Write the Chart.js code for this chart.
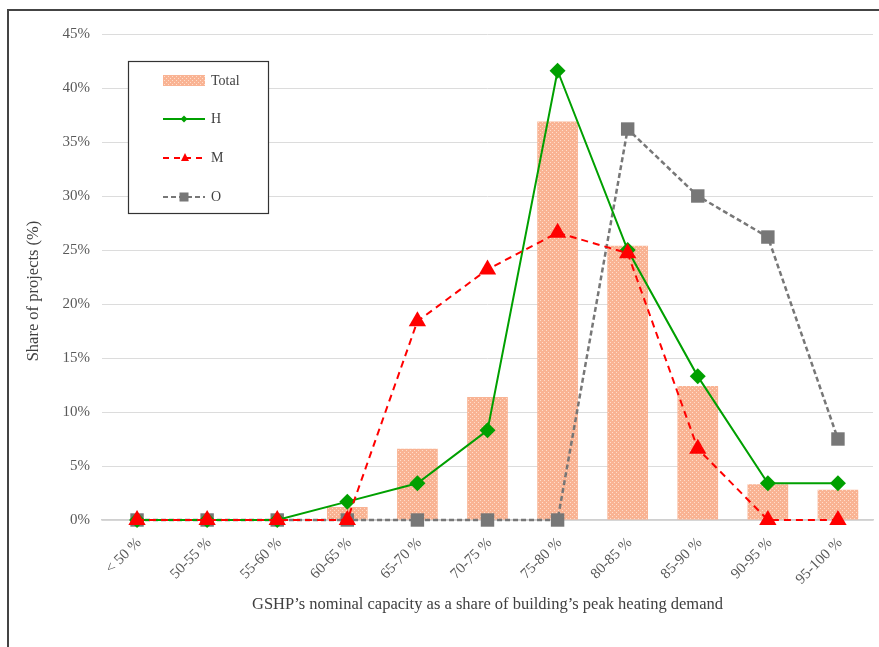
<!DOCTYPE html>
<html>
<head>
<meta charset="utf-8">
<script src="https://cdn.jsdelivr.net/npm/chart.js@4.4.1/dist/chart.umd.min.js"></script>
<style>
  html, body { margin: 0; padding: 0; background: #fff; }
  #wrap { position: relative; width: 879px; height: 647px; }
  #frame { position: absolute; left: 7px; top: 9px; right: 0; bottom: 0;
           border-left: 2px solid #444; border-top: 2px solid #444; pointer-events: none; }
  canvas { position: absolute; left: 0; top: 0; }
</style>
</head>
<body>
<div id="wrap">
  <canvas id="c" width="879" height="647"></canvas>
  <div id="frame"></div>
</div>
<script>
// Capacity ratio bins
const categories = ['< 50 %', '50-55 %', '55-60 %', '60-65 %', '65-70 %', '70-75 %',
                    '75-80 %', '80-85 %', '85-90 %', '90-95 %', '95-100 %'];
// Share of projects (%) per bin
const totalShare = [0, 0, 0, 1.2, 6.6, 11.4, 36.9, 25.4, 12.4, 3.3, 2.8];
const hShare     = [0, 0, 0, 1.7, 3.4, 8.3, 41.6, 25.0, 13.3, 3.4, 3.4];
const mShare     = [0, 0, 0, 0, 18.4, 23.2, 26.6, 24.7, 6.6, 0, 0];
const oShare     = [0, 0, 0, 0, 0, 0, 0, 36.2, 30.0, 26.2, 7.5];
const yTicks     = [0, 5, 10, 15, 20, 25, 30, 35, 40, 45];

const FONT = '"Liberation Serif", "Times New Roman", serif';
const GREEN = '#00A000', RED = '#FF0000', GREY = '#777777';

// Dotted salmon fill for the Total bars
function makePattern() {
  const p = document.createElement('canvas');
  p.width = 4; p.height = 4;
  const g = p.getContext('2d');
  g.fillStyle = '#F9B393';
  g.fillRect(0, 0, 4, 4);
  g.fillStyle = 'rgba(255,225,210,0.9)';
  g.fillRect(0, 0, 1, 1);
  g.fillRect(2, 2, 1, 1);
  return g.createPattern(p, 'repeat');
}
const barFill = makePattern();

// Vertical axis title, placed by hand
const yTitle = {
  id: 'yTitle',
  afterDraw(chart) {
    const ctx = chart.ctx;
    ctx.save();
    ctx.translate(34, 291);
    ctx.rotate(-Math.PI / 2);
    ctx.font = '16.5px ' + FONT;
    ctx.fillStyle = '#404040';
    ctx.textAlign = 'center';
    ctx.textBaseline = 'middle';
    ctx.fillText('Share of projects (%)', 0, 0);
    ctx.restore();
  }
};

// Framed legend drawn inside the plot
const boxLegend = {
  id: 'boxLegend',
  afterDraw(chart) {
    const ctx = chart.ctx;
    ctx.save();
    ctx.fillStyle = '#fff';
    ctx.fillRect(128, 61, 141, 153);
    ctx.strokeStyle = '#333';
    ctx.lineWidth = 1.2;
    ctx.strokeRect(128.5, 61.5, 140, 152);
    const x0 = 163, x1 = 205, xm = 184, tx = 211;
    ctx.font = '14px ' + FONT;
    ctx.textBaseline = 'middle';
    // Total
    ctx.fillStyle = barFill;
    ctx.fillRect(x0, 75, x1 - x0, 11);
    ctx.fillStyle = '#404040';
    ctx.fillText('Total', tx, 81);
    // H
    ctx.strokeStyle = GREEN; ctx.lineWidth = 2; ctx.setLineDash([]);
    ctx.beginPath(); ctx.moveTo(x0, 119); ctx.lineTo(x1, 119); ctx.stroke();
    ctx.fillStyle = GREEN;
    ctx.beginPath(); ctx.moveTo(xm, 115.5); ctx.lineTo(xm + 3.5, 119); ctx.lineTo(xm, 122.5); ctx.lineTo(xm - 3.5, 119); ctx.closePath(); ctx.fill();
    ctx.fillStyle = '#404040';
    ctx.fillText('H', tx, 119);
    // M
    ctx.strokeStyle = RED; ctx.setLineDash([6, 5]);
    ctx.beginPath(); ctx.moveTo(x0, 158); ctx.lineTo(x1, 158); ctx.stroke();
    ctx.setLineDash([]);
    ctx.fillStyle = RED;
    ctx.beginPath(); ctx.moveTo(xm + 1, 153); ctx.lineTo(xm + 5, 161); ctx.lineTo(xm - 3, 161); ctx.closePath(); ctx.fill();
    ctx.fillStyle = '#404040';
    ctx.fillText('M', tx, 158);
    // O
    ctx.strokeStyle = GREY; ctx.setLineDash([5, 3]);
    ctx.beginPath(); ctx.moveTo(x0, 197); ctx.lineTo(x1, 197); ctx.stroke();
    ctx.setLineDash([]);
    ctx.fillStyle = GREY;
    ctx.fillRect(xm - 4.5, 192.5, 9, 9);
    ctx.fillStyle = '#404040';
    ctx.fillText('O', tx, 197);
    ctx.restore();
  }
};

new Chart(document.getElementById('c'), {
  data: {
    labels: categories,
    datasets: [
      { type: 'line', label: 'M', data: mShare, order: 1, clip: false,
        borderColor: RED, backgroundColor: RED, borderWidth: 2, borderDash: [7, 5],
        pointStyle: 'triangle', pointRadius: 10, pointBorderWidth: 0, tension: 0 },
      { type: 'line', label: 'H', data: hShare, order: 2, clip: false,
        borderColor: GREEN, backgroundColor: GREEN, borderWidth: 2,
        pointStyle: 'rectRot', pointRadius: 8, pointBorderWidth: 0, tension: 0 },
      { type: 'line', label: 'O', data: oShare, order: 3, clip: false,
        borderColor: GREY, backgroundColor: GREY, borderWidth: 2.5, borderDash: [5, 3],
        pointStyle: 'rect', pointRadius: 9.5, pointBorderWidth: 0, tension: 0 },
      { type: 'bar', label: 'Total', data: totalShare, order: 10,
        backgroundColor: barFill, borderWidth: 0,
        categoryPercentage: 1, barPercentage: 0.58 }
    ]
  },
  options: {
    responsive: false,
    animation: false,
    layout: { autoPadding: false, padding: { left: 16, top: 34, right: 6, bottom: 26 } },
    plugins: { legend: { display: false }, tooltip: { enabled: false } },
    scales: {
      x: {
        grid: { display: false, drawTicks: false },
        border: { display: true, color: '#d0d0d0', width: 1.5 },
        ticks: { color: '#595959', font: { family: FONT, size: 15 },
                 minRotation: 45, maxRotation: 45, padding: 14, labelOffset: 2, autoSkip: false },
        title: { display: true, text: 'GSHP\u2019s nominal capacity as a share of building\u2019s peak heating demand',
                 color: '#404040', font: { family: FONT, size: 16.5 }, padding: { top: 0, bottom: 6 } },
        afterFit(s) { s.height = 101; s.paddingLeft = 0; s.paddingRight = 0; }
      },
      y: {
        min: 0, max: 45,
        afterBuildTicks(s) { s.ticks = yTicks.map(v => ({ value: v })); },
        grid: { color: '#dcdcdc', lineWidth: 1, drawTicks: false },
        border: { display: false },
        ticks: { color: '#595959', font: { family: FONT, size: 15 }, padding: 12,
                 callback: v => v + '%' },
        afterFit(s) { s.width = 86; }
      }
    }
  },
  plugins: [yTitle, boxLegend]
});
</script>
</body>
</html>
